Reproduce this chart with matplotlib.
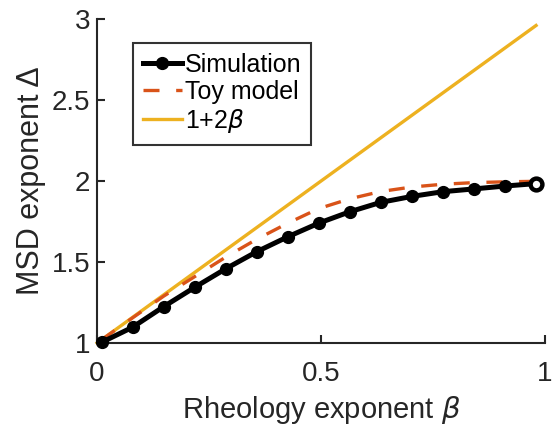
import matplotlib
matplotlib.use("Agg")
import matplotlib.pyplot as plt

plt.rcParams['font.family'] = ['Liberation Sans', 'DejaVu Sans']
plt.rcParams['mathtext.fontset'] = 'dejavusans'

# rheology exponent grid and the measured / modelled MSD exponents
beta = [0.01, 0.079, 0.149, 0.218, 0.287, 0.356, 0.426, 0.495,
        0.564, 0.633, 0.703, 0.772, 0.841, 0.911, 0.98]
delta_sim = [1.004, 1.097, 1.225, 1.344, 1.458, 1.563, 1.656, 1.740,
             1.810, 1.868, 1.905, 1.934, 1.951, 1.969, 1.984]
delta_toy = [1.02, 1.155, 1.29, 1.41, 1.53, 1.64, 1.74, 1.83,
             1.89, 1.935, 1.963, 1.98, 1.99, 1.995, 1.998]
beta_line = [0.0, 0.98]

sim_color = 'black'
toy_color = '#D95319'
lin_color = '#EDB120'
axis_color = '#262626'

fig = plt.figure(figsize=(5.55, 4.34), dpi=100)
ax = fig.add_axes([0.175, 0.2097, 0.807, 0.7465])

ax.plot(beta, delta_sim, '-o', color=sim_color, lw=3.6, ms=8.5,
        label='Simulation', clip_on=False, zorder=3)
# last point drawn open
ax.plot(beta[-1:], delta_sim[-1:], 'o', color=sim_color, ms=8.5,
        mfc='white', mew=3.2, clip_on=False, zorder=4)
ax.plot(beta, delta_toy, color=toy_color, lw=2.4,
        linestyle=(0, (4.8, 5)), label='Toy model', zorder=2)
ax.plot(beta_line, [1 + 2 * b for b in beta_line], color=lin_color, lw=2.4,
        label=r'1+2$\beta$', clip_on=False, zorder=1)

ax.set_xlim(0, 1)
ax.set_ylim(1, 3)
ax.set_xticks([0, 0.5, 1])
ax.set_xticklabels(['0', '0.5', '1'])
ax.set_yticks([1, 1.5, 2, 2.5, 3])
ax.set_yticklabels(['1', '1.5', '2', '2.5', '3'])

for side in ['top', 'right']:
    ax.spines[side].set_visible(False)
for side in ['left', 'bottom']:
    ax.spines[side].set_color(axis_color)
    ax.spines[side].set_linewidth(1.5)

ax.tick_params(direction='in', length=6, width=1.5, colors=axis_color,
               labelsize=20, labelcolor=axis_color)
ax.tick_params(axis='x', pad=13)
ax.tick_params(axis='y', pad=5)

ax.set_xlabel(r'Rheology exponent $\beta$', fontsize=21, color=axis_color,
              labelpad=5)
ax.set_ylabel('MSD exponent Δ', fontsize=22, color=axis_color, labelpad=4)

leg = ax.legend(loc='upper left', bbox_to_anchor=(0.08, 0.926),
                borderaxespad=0, fontsize=18, frameon=True, fancybox=False,
                handlelength=1.55, handletextpad=0.12, borderpad=0.4,
                labelspacing=0.12)
leg.get_frame().set_edgecolor('black')
leg.get_frame().set_linewidth(1.5)

fig.savefig('out.png', dpi=100)
